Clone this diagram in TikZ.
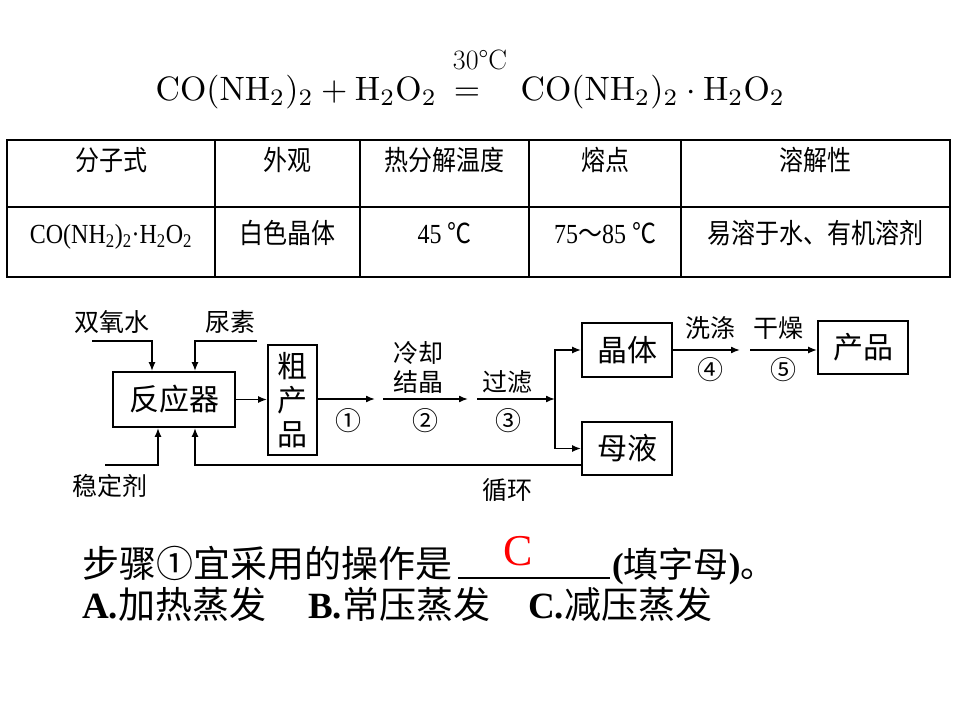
\documentclass[tikz,border=0pt]{standalone}
\usepackage{fontspec}
\newfontfamily\cjk{Noto Sans CJK SC}
\newfontfamily\tnr{Liberation Serif}
\usetikzlibrary{arrows.meta}
\begin{document}
\begin{tikzpicture}[x=1pt,y=-1pt,
  box/.style={draw, line width=1.8pt, inner sep=0pt, font=\cjk\fontsize{30}{34}\selectfont, align=center},
  lbl/.style={inner sep=0pt, font=\cjk\fontsize{25}{27}\selectfont},
  num/.style={inner sep=0pt, font=\cjk\fontsize{26}{28}\selectfont},
  tbl/.style={inner sep=0pt, anchor=base, yscale=1.15, font=\cjk\fontsize{24}{26}\selectfont},
  big/.style={inner sep=0pt, anchor=base west, font=\cjk\fontsize{37}{40}\selectfont},
  arr/.style={line width=1.6pt, -{Latex[length=9pt,width=7pt]}},
  ln/.style={line width=1.6pt},
  grid/.style={line width=1.5pt}]
\useasboundingbox (0,0) rectangle (960,720);
\fill[white] (0,0) rectangle (960,720);
% equation
\node[anchor=base west, inner sep=0pt, scale=3.38] (eql) at (155,100) {$\mathrm{CO(NH_2)_2}+\mathrm{H_2O_2}$};
\node[anchor=base, inner sep=0pt, scale=3.38] (eqs) at (467,100) {$=$};
\node[anchor=base, inner sep=0pt, font=\fontsize{28}{30}\selectfont] (cond) at (480,69) {30°C};
\node[anchor=base west, inner sep=0pt, scale=3.38] (eqr) at (520,100) {$\mathrm{CO(NH_2)_2}\cdot\mathrm{H_2O_2}$};
% table
\draw[line width=1.8pt] (7,140) rectangle (950,277);
\draw[grid] (7,207) -- (950,207);
\foreach \cx in {215,360,529,681} \draw[grid] (\cx,140) -- (\cx,277);
\node[tbl] (h1) at (111,170) {分子式};
\node[tbl] (h2) at (287.5,170) {外观};
\node[tbl] (h3) at (444.5,170) {热分解温度};
\node[tbl] (h4) at (605,170) {熔点};
\node[tbl] (h5) at (815.5,170) {溶解性};
\node[tbl] (c1) at (111,243) {\tnr CO(NH\textsubscript{2})\textsubscript{2}·H\textsubscript{2}O\textsubscript{2}};
\node[tbl] (c2) at (287.5,243) {白色晶体};
\node[tbl] (c3) at (444.5,243) {{\tnr 45 }℃};
\node[tbl] (c4) at (605,243) {{\tnr 75}～{\tnr 85 }℃};
\node[tbl] (c5) at (815.5,243) {易溶于水、有机溶剂};
% flowchart boxes
\node[box, minimum width=122pt, minimum height=55pt] (rx) at (174,399.5) {反应器};
\node[box, minimum width=49pt, minimum height=110pt] (cr) at (292.5,400) {粗\\产\\品};
\node[box, minimum width=90pt, minimum height=54pt] (cry) at (627,350) {晶体};
\node[box, minimum width=90pt, minimum height=53pt] (ml) at (627,448.5) {母液};
\node[box, minimum width=90pt, minimum height=53pt] (pr) at (863,347.5) {产品};
% labels
\node[lbl] (lh) at (112,322) {双氧水};
\node[lbl] (lu) at (230,322) {尿素};
\node[lbl] (ls) at (110,486) {稳定剂};
\node[lbl] (lc1) at (418,353) {冷却};
\node[lbl] (lc2) at (418,382) {结晶};
\node[lbl] (lf) at (507,382) {过滤};
\node[lbl] (lw) at (710,328) {洗涤};
\node[lbl] (ld) at (778,328) {干燥};
\node[lbl] (lr) at (507,490) {循环};
\node[num] (n1) at (348,421) {①};
\node[num] (n2) at (425,421) {②};
\node[num] (n3) at (508,421) {③};
\node[num] (n4) at (710,370) {④};
\node[num] (n5) at (783,370) {⑤};
% connectors
\coordinate (hs) at (92,341);
\coordinate (us) at (257,341);
\coordinate (ss) at (105,465);
\coordinate (a1e) at (375,399);
\coordinate (a2s) at (383,399);
\coordinate (a2e) at (468,399);
\coordinate (a3s) at (477,399);
\coordinate (br) at (555,399);
\coordinate (a4e) at (740,350);
\coordinate (a5s) at (750,350);
\draw[arr] (hs) -| ([xshift=-22pt]rx.north);
\draw[arr] (us) -| ([xshift=21pt]rx.north);
\draw[arr] (ss) -| ([xshift=-16pt]rx.south);
\draw[arr] ([yshift=-16.5pt]ml.west) -| ([xshift=21pt]rx.south);
\draw[arr] (rx.east) -- (rx.east -| cr.west);
\draw[arr] (cr.east |- a1e) -- (a1e);
\draw[arr] (a2s) -- (a2e);
\draw[arr] (a3s) -- (br);
\draw[arr] (br) |- (cry.west);
\draw[arr] (br) |- (ml.west);
\draw[arr] (cry.east) -- (a4e);
\draw[arr] (a5s) -- (a5s -| pr.west);
% question
\node[big] (q1) at (82,577) {步骤①宜采用的操作是};
\coordinate (ul1) at (458,578);
\coordinate (ul2) at (610,578);
\draw[line width=2pt] (ul1) -- (ul2);
\node[big, font=\cjk\fontsize{35}{38}\selectfont] (q2) at (612,577) {{\tnr\bfseries (}填字母{\tnr\bfseries )}。};
\node[inner sep=0pt, anchor=base, text=red, font=\tnr\fontsize{44}{46}\selectfont] (ans) at (518,565) {C};
\node[big] (oa) at (82,618) {{\tnr\bfseries A.}加热蒸发};
\node[big] (ob) at (308,618) {{\tnr\bfseries B.}常压蒸发};
\node[big] (oc) at (528,618) {{\tnr\bfseries C.}减压蒸发};
\end{tikzpicture}
\end{document}
